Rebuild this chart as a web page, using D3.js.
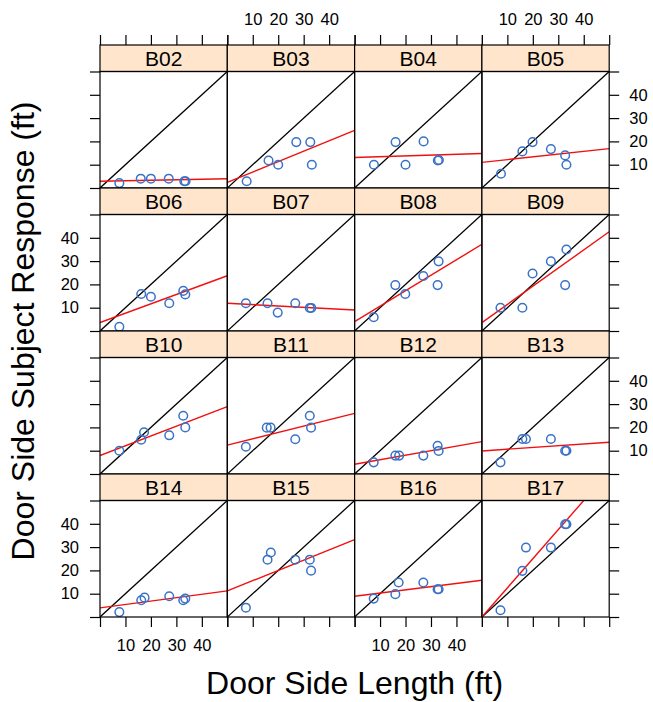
<!DOCTYPE html>
<meta charset="utf-8">
<style>
  body { margin: 0; background: #fff; }
  text { font-family: "Liberation Sans", Arial, Helvetica, sans-serif; fill: #000; }
</style>
<body>
<div id="my_dataviz"></div>
<script src="https://d3js.org/d3.v7.min.js"></script>
<script>

// panel names, top-left to bottom-right
var panels = ["B02","B03","B04","B05","B06","B07","B08","B09",
              "B10","B11","B12","B13","B14","B15","B16","B17"];

// door side length (x) for each panel
var doorX = [
  [7.6,16,20,27,33.1,33.6],
  [7.6,16.2,20,27.1,32.6,33.2],
  [7.6,16.1,20,27.1,32.7,33.1],
  [7.5,15.9,19.9,27.1,32.7,33.2],
  [7.6,16.2,20,27.2,32.7,33.5],
  [7.3,15.8,19.8,26.7,32.4,33],
  [7.5,16,19.9,27,32.6,33],
  [7.3,15.9,19.9,27.1,32.7,33.2],
  [7.6,16.2,17.3,27.2,32.7,33.5],
  [7.3,15.5,17,26.7,32.4,32.9],
  [7.5,16,17.5,27,32.6,33],
  [7.3,15.9,17.3,27.1,32.7,33.2],
  [7.6,16.2,17.5,27.2,32.7,33.5],
  [7.3,15.8,17.1,26.7,32.4,32.9],
  [7.5,16,17.3,27,32.6,33],
  [7.3,15.9,17.3,27.1,32.7,33.2]
];

// subject response (y) for each panel
var responseY = [
  [2.1,4,4,4,2.9,2.9],
  [2.9,11.8,10,19.7,19.7,10],
  [10,19.7,10,20,11.8,12],
  [6.1,15.7,19.7,16.7,14,10],
  [1.8,15.9,14.7,11.9,17.2,15.7],
  [11.9,11.9,7.9,11.9,9.9,9.9],
  [5.9,19.7,15.9,23.6,19.7,29.9],
  [10,10,24.7,29.9,19.7,35],
  [10,14.7,17.9,16.6,25,20],
  [11.7,19.9,19.9,14.9,25,19.9],
  [5,7.9,7.9,7.9,12.1,9.9],
  [5,15,15,15,10,10],
  [2.1,7.2,8.3,8.9,7.2,7.9],
  [4,24.6,27.7,24.6,24.6,19.9],
  [7.9,9.8,14.8,14.8,11.9,11.9],
  [2.9,19.8,29.8,29.8,39.8,39.8]
];

// fitted (red) line: value at x = 0 and at x = 50
var fitStart = [2.9,2.4,13.1,11,3.6,11.9,4,3.6,7.9,12.4,4.2,9.9,3.9,11.2,8.9,0];
var fitEnd   = [4,24.7,14.8,16.9,23.7,9,37.2,42.6,28.9,26,13.9,13.6,11.2,33.2,15.8,62.5];

var ticks  = [0,10,20,30,40,50];
var labels = ["","10","20","30","40",""];

var width = 653, height = 702;
var left = 100, top0 = 45;
var panelW = 127.3, stripH = 26.5, panelH = 116.5, rowH = 143;
var nCol = 4, nRow = 4;

var svg = d3.select("#my_dataviz")
  .append("svg")
    .attr("width", width)
    .attr("height", height);

var x = d3.scaleLinear().domain([0, 50]).range([0, panelW]);
var y = d3.scaleLinear().domain([0, 50]).range([panelH, 0]);

var line = d3.line().x(function(d){ return x(d[0]); }).y(function(d){ return y(d[1]); });

svg.append("defs").append("clipPath").attr("id", "clip")
  .append("rect").attr("width", panelW).attr("height", panelH);

function fmt(show) {
  return function(d, i) { return show ? labels[i] : ""; };
}

panels.forEach(function(name, k) {
  var col = k % nCol, row = Math.floor(k / nCol);
  var px = left + col * panelW;
  var sy = top0 + row * rowH;
  var py = sy + stripH;

  var g = svg.append("g").attr("transform", "translate(" + px + "," + sy + ")");

  // strip
  g.append("rect")
    .attr("width", panelW).attr("height", stripH)
    .attr("fill", "#ffe5cc").attr("stroke", "black").attr("stroke-width", 1.2);
  g.append("text")
    .attr("x", panelW / 2).attr("y", stripH / 2)
    .attr("dy", "0.36em")
    .attr("text-anchor", "middle")
    .style("font-size", "21px")
    .text(name);

  var p = svg.append("g").attr("transform", "translate(" + px + "," + py + ")");
  var inner = p.append("g").attr("clip-path", "url(#clip)");

  // y = x reference line
  inner.append("path")
    .attr("d", line([[0,0],[50,50]]))
    .attr("fill", "none").attr("stroke", "black").attr("stroke-width", 1.3);

  // fitted line
  inner.append("path")
    .attr("d", line([[0, fitStart[k]], [50, fitEnd[k]]]))
    .attr("fill", "none").attr("stroke", "#f01010").attr("stroke-width", 1.4);

  var pts = doorX[k].map(function(v, i){ return [v, responseY[k][i]]; });
  inner.selectAll("circle").data(pts).enter().append("circle")
    .attr("cx", function(d){ return x(d[0]); })
    .attr("cy", function(d){ return y(d[1]); })
    .attr("r", 4.3)
    .attr("fill", "none")
    .attr("stroke", "#3a72c6")
    .attr("stroke-width", 1.5);

  p.append("rect")
    .attr("width", panelW).attr("height", panelH)
    .attr("fill", "none").attr("stroke", "black").attr("stroke-width", 1.2);

  // alternating axes
  if (row == 0) {
    var at = svg.append("g").attr("transform", "translate(" + px + "," + sy + ")")
      .call(d3.axisTop(x).tickValues(ticks).tickSize(10).tickPadding(10).tickFormat(fmt(col % 2 == 1)));
    styleAxis(at);
  }
  if (row == nRow - 1) {
    var ab = svg.append("g").attr("transform", "translate(" + px + "," + (py + panelH) + ")")
      .call(d3.axisBottom(x).tickValues(ticks).tickSize(10).tickPadding(12).tickFormat(fmt(col % 2 == 0)));
    styleAxis(ab);
  }
  if (col == 0) {
    var al = svg.append("g").attr("transform", "translate(" + px + "," + py + ")")
      .call(d3.axisLeft(y).tickValues(ticks).tickSize(10).tickPadding(11).tickFormat(fmt(row % 2 == 1)));
    styleAxis(al);
  }
  if (col == nCol - 1) {
    var ar = svg.append("g").attr("transform", "translate(" + (px + panelW) + "," + py + ")")
      .call(d3.axisRight(y).tickValues(ticks).tickSize(10).tickPadding(10).tickFormat(fmt(row % 2 == 0)));
    styleAxis(ar);
  }
});

function styleAxis(a) {
  a.select(".domain").remove();
  a.selectAll("line").attr("stroke", "black").attr("stroke-width", 1.2);
  a.selectAll("text")
    .style("font-size", "16.5px")
    .attr("fill", "black")
    .style("font-family", "'Liberation Sans', Arial, Helvetica, sans-serif");
}

// axis titles
svg.append("text")
  .attr("x", left + nCol * panelW / 2).attr("y", 694)
  .attr("text-anchor", "middle")
  .style("font-size", "32px")
  .text("Door Side Length (ft)");

svg.append("text")
  .attr("transform", "translate(34," + (top0 + nRow * rowH / 2) + ") rotate(-90)")
  .attr("text-anchor", "middle")
  .style("font-size", "32px")
  .text("Door Side Subject Response (ft)");

</script>
</body>
